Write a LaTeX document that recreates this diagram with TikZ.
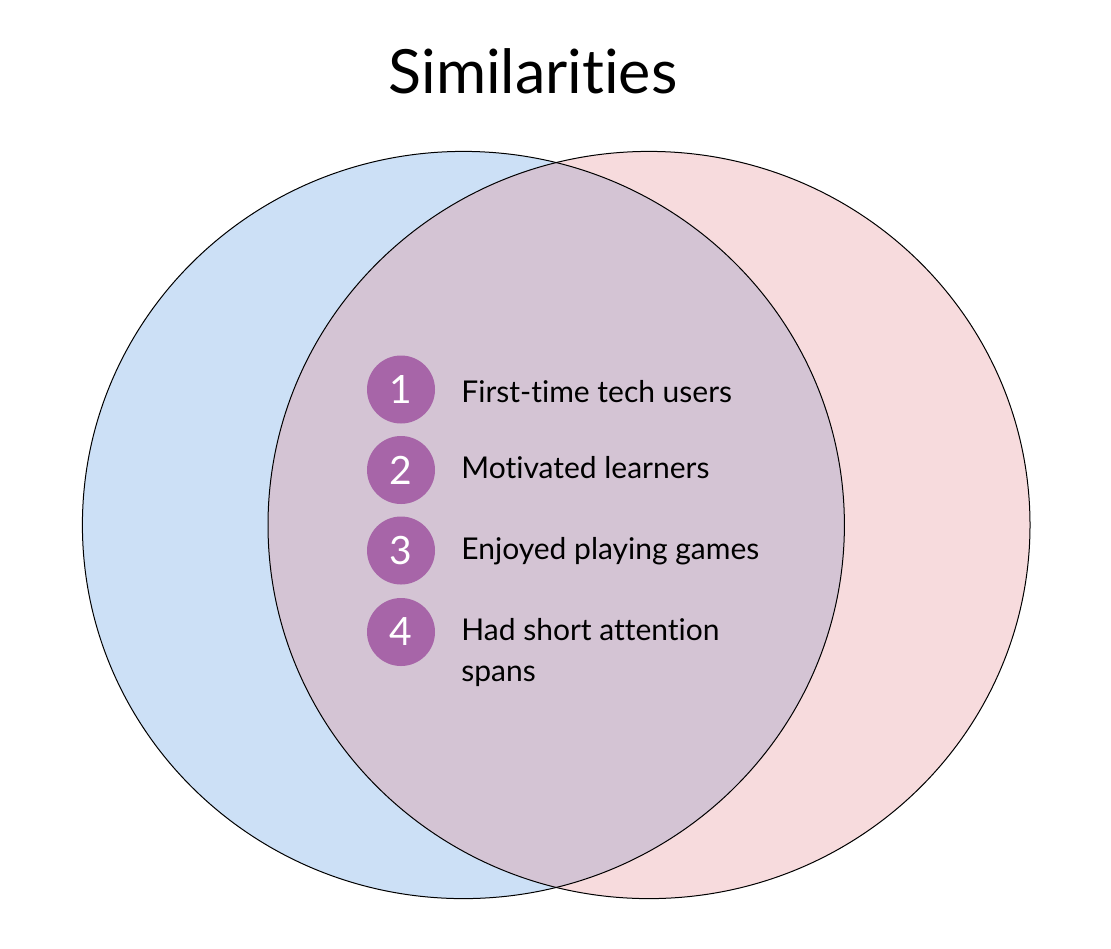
\documentclass[tikz,border=0pt]{standalone}
\usepackage{fontspec}
\setmainfont{Lato}[Ligatures=NoCommon]

\definecolor{setblue}{RGB}{204,224,246}
\definecolor{setpink}{RGB}{247,219,221}
\definecolor{setmix}{RGB}{212,196,212}
\definecolor{dotpurple}{RGB}{167,101,168}

\tikzstyle{setline}=[draw=black, line width=0.5pt]
\tikzstyle{number}=[circle, fill=dotpurple, text=white, minimum size=34pt,
                    inner sep=0pt, font=\fontsize{19.5}{20}\selectfont]
\tikzstyle{point}=[anchor=base west, inner sep=0pt, align=left,
                   font=\fontsize{15}{20.5}\selectfont]

\begin{document}
\begin{tikzpicture}[x=0.5pt, y=0.5pt]

  \useasboundingbox (0,0) rectangle (1111,-948);
  \fill[white] (0,0) rectangle (1111,-948);

  \node (Title) at (533,-93) [anchor=base, inner sep=0pt,
                              font=\fontsize{30.5}{32}\selectfont] {Similarities};

  %%%%%%%%%%%%%%%%%%%%%%%%%%%%%%
  % sets
  \fill[setblue] (463.4,-525) ellipse [x radius=381, y radius=373.6];
  \fill[setpink] (649,-525) ellipse [x radius=381, y radius=373.6];
  \begin{scope}
    \clip (463.4,-525) ellipse [x radius=381, y radius=373.6];
    \fill[setmix] (649,-525) ellipse [x radius=381, y radius=373.6];
  \end{scope}
  \draw[setline] (463.4,-525) ellipse [x radius=381, y radius=373.6];
  \draw[setline] (649,-525) ellipse [x radius=381, y radius=373.6];

  %%%%%%%%%%%%%%%%%%%%%%%%%%%%%%
  % list
  \node (One) at (401,-389.5) [number] {1};
  \node (Two) at (401,-470) [number] {2};
  \node (Three) at (401,-550.5) [number] {3};
  \node (Four) at (401,-632) [number] {4};

  \node (OneText) at (461,-402.7) [point] {First-time tech users};
  \node (TwoText) at (461,-478.3) [point] {Motivated learners};
  \node (ThreeText) at (461,-559.3) [point] {Enjoyed playing games};
  % base of a two-line node is its last line
  \node (FourText) at (461,-681) [point] {Had short attention\\spans};

\end{tikzpicture}
\end{document}
